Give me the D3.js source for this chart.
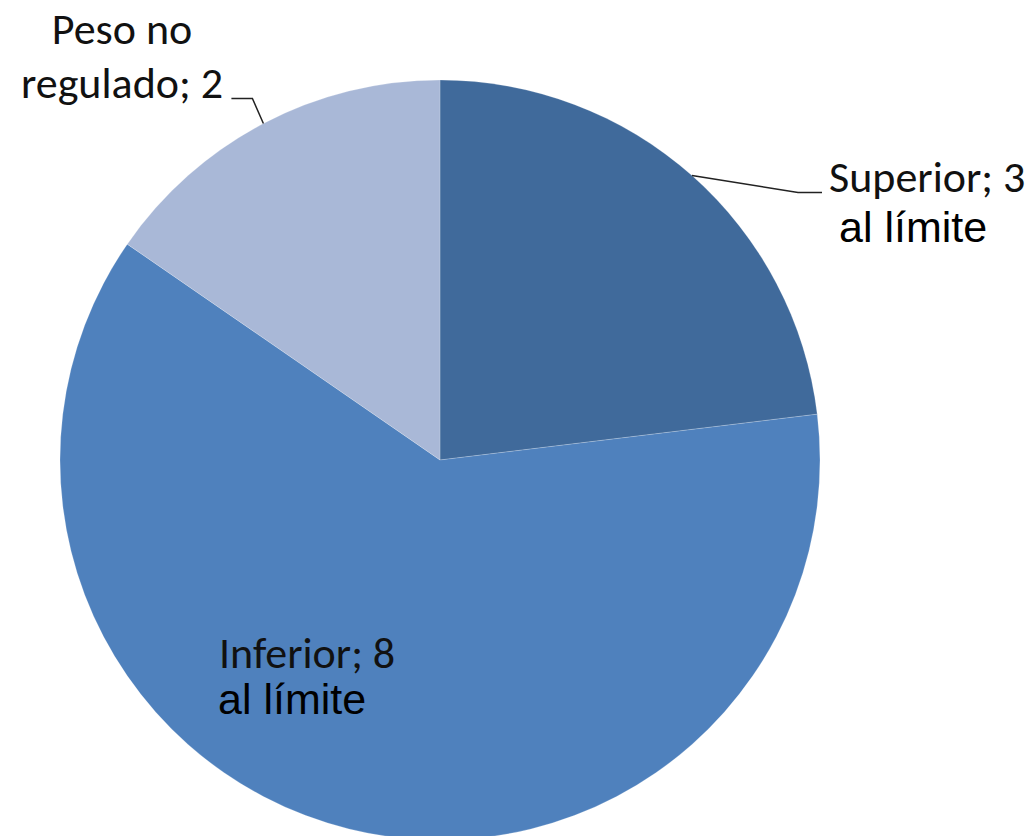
<!DOCTYPE html>
<html>
<head>
<meta charset="utf-8">
<script src="https://cdn.jsdelivr.net/npm/d3@7"></script>
<style>
html,body{margin:0;padding:0;background:#fff;}
svg{display:block;}
</style>
</head>
<body>
<svg id="chart" width="1035" height="836"></svg>
<script>
const categories = ["Superior", "Inferior", "Peso no regulado"];
const values = [3, 8, 2];
const labelLines = [["Superior; 3"], ["Inferior; 8"], ["Peso no", "regulado; 2"]];
const extraLines = ["al límite", "al límite", null];
const colors = ["#406A9B", "#4F81BD", "#A9B8D7"];

const svg = d3.select("#chart");
const cx = 440, cy = 460, R = 380;
const g = svg.append("g").attr("transform", `translate(${cx},${cy})`);

const pie = d3.pie().sort(null).value(d => d.v).startAngle(0).endAngle(2*Math.PI);
const data = categories.map((c,i) => ({c, v: values[i], i}));
const arcs = pie(data);
const arc = d3.arc().innerRadius(0).outerRadius(R);

g.selectAll("path.slice").data(arcs).enter().append("path")
  .attr("class","slice")
  .attr("d", arc)
  .attr("fill", d => colors[d.data.i])
  .attr("stroke", "rgba(255,255,255,0.2)")
  .attr("stroke-width", 1);

const pt = (a, r) => [Math.sin(a)*r, -Math.cos(a)*r];
const calibri = "Carlito, Calibri, Lato, 'Open Sans', sans-serif";
const arial = "'Liberation Sans', Arial, sans-serif";
const fsCal = 44, fsAr = 43;

// Superior label (outside right, with leader)
{
  const a = arcs[0]; const m = (a.startAngle + a.endAngle)/2;
  const p0 = pt(m, R);
  const p1 = [p0[0] + 106, p0[1] + 17];
  const p2 = [p1[0] + 24, p1[1]];
  g.append("path").attr("d", d3.line()([p0,p1,p2])).attr("fill","none").attr("stroke","#222").attr("stroke-width",1.5);
  g.append("text").attr("x", p2[0] + 7).attr("y", p2[1] - 1)
    .attr("font-family", calibri).attr("font-size", fsCal).attr("fill","#111")
    .text(labelLines[0][0]);
  g.append("text").attr("x", p2[0] + 17).attr("y", p2[1] + 49)
    .attr("font-family", arial).attr("font-size", fsAr).attr("fill","#000")
    .text(extraLines[0]);
}
// Inferior label (inside slice)
{
  g.append("text").attr("x", 219 - cx).attr("y", 668 - cy)
    .attr("font-family", calibri).attr("font-size", fsCal).attr("fill","#111")
    .text(labelLines[1][0]);
  g.append("text").attr("x", 218 - cx).attr("y", 714 - cy)
    .attr("font-family", arial).attr("font-size", fsAr).attr("fill","#000")
    .text(extraLines[1]);
}
// Peso no regulado label (outside top-left with leader)
{
  const a = arcs[2]; const m = (a.startAngle + a.endAngle)/2;
  const p0 = pt(m, R);
  const p1 = [p0[0] - 11, p0[1] - 25];
  const p2 = [p1[0] - 21, p1[1]];
  g.append("path").attr("d", d3.line()([p0,p1,p2])).attr("fill","none").attr("stroke","#222").attr("stroke-width",1.5);
  const t = g.append("text").attr("text-anchor","middle")
    .attr("font-family", calibri).attr("font-size", fsCal).attr("fill","#111");
  labelLines[2].forEach((s, k) => {
    t.append("tspan").attr("x", 122 - cx).attr("y", 44 - cy + k*54).text(s);
  });
}
</script>
</body>
</html>
